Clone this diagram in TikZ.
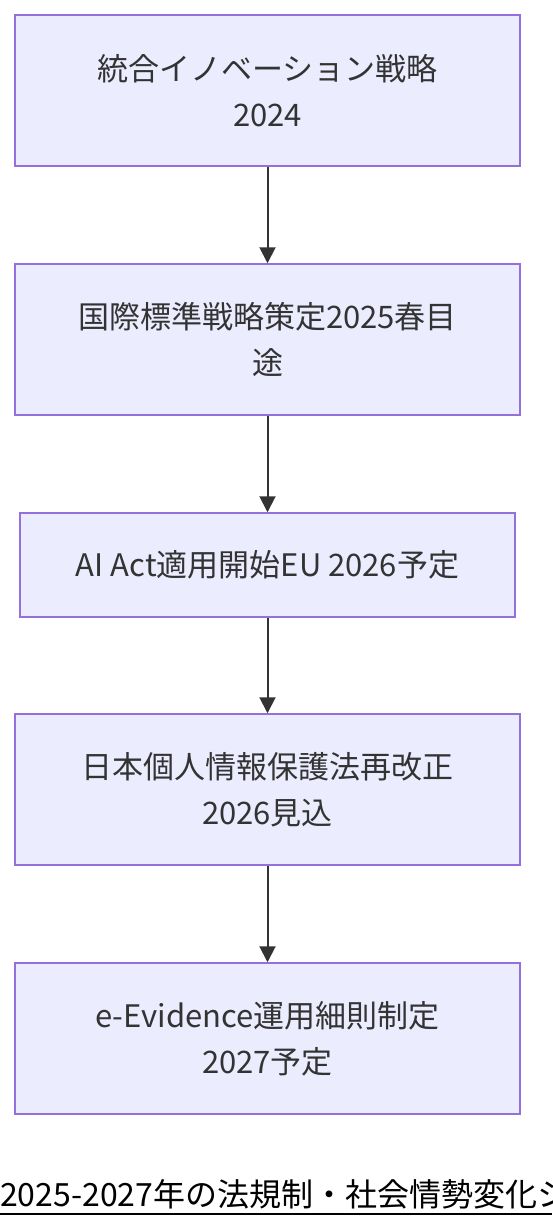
\documentclass[tikz,border=0pt]{standalone}
\usepackage{fontspec}
\setmainfont{Noto Sans CJK JP}
\usetikzlibrary{arrows.meta}
\definecolor{boxfill}{HTML}{ECECFF}
\definecolor{boxline}{HTML}{9370DB}
\definecolor{ink}{HTML}{333333}
\tikzset{
  stepbox/.style={draw=boxline, fill=boxfill, line width=1.5pt, text=ink, align=center,
    minimum width=505pt, minimum height=151pt, inner sep=0pt,
    font=\fontsize{31}{46}\selectfont},
  flow/.style={draw=ink, line width=2pt, -{Triangle[length=16pt,width=16pt]}}
}
\begin{document}
\begin{tikzpicture}[x=1pt,y=-1pt]
\useasboundingbox (0,0) rectangle (552,1228);
\clip (0,0) rectangle (552,1228);
\node[stepbox] (a) at (267.5,90.5) {統合イノベーション戦略\\2024};
\node[stepbox] (b) at (267.5,339.5) {国際標準戦略策定2025春目\\途};
\node[stepbox, minimum width=495pt, minimum height=104pt] (c) at (267.5,565) {AI Act適用開始EU 2026予定};
\node[stepbox] (d) at (267.5,789.5) {日本個人情報保護法再改正\\2026見込};
\node[stepbox] (e) at (267.5,1038.5) {e-Evidence運用細則制定\\2027予定};
\draw[flow] (a) -- (b);
\draw[flow] (b) -- (c);
\draw[flow] (c) -- (d);
\draw[flow] (d) -- (e);
\node[anchor=base west, inner sep=0pt, text=black, font=\fontsize{32}{34}\selectfont] (t) at (0,1206) {2025-2027年の法規制・社会情勢変化シ};
\draw[line width=2pt, black] (0,1214) -- (552,1214);
\end{tikzpicture}
\end{document}
